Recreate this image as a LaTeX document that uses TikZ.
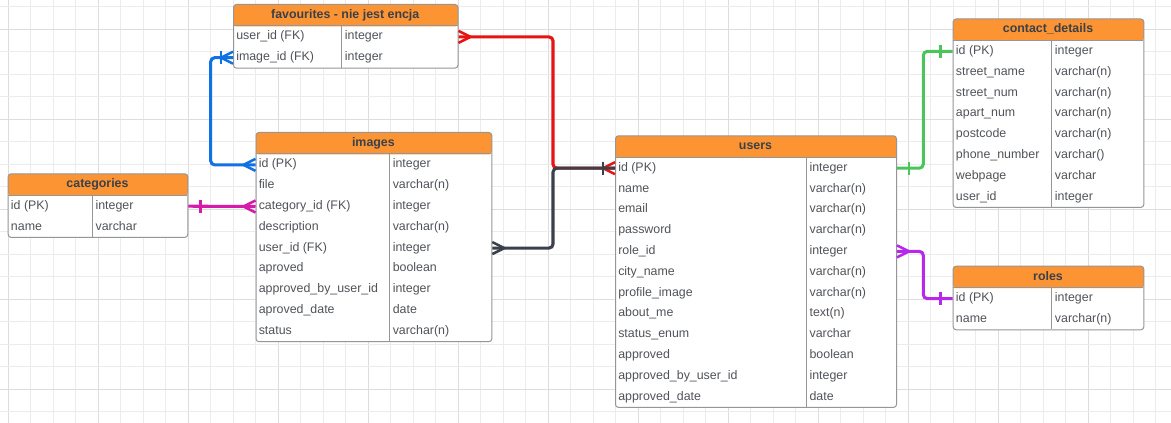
\documentclass[tikz,border=0pt]{standalone}
\usepackage{fontspec}
\setmainfont{Liberation Sans}
\definecolor{hdrcol}{RGB}{252,148,51}
\definecolor{bordercol}{RGB}{150,150,150}
\definecolor{hdrtxt}{RGB}{58,65,74}
\definecolor{celltxt}{RGB}{80,83,89}
\definecolor{gridminor}{RGB}{236,236,236}
\definecolor{gridmajor}{RGB}{221,221,221}
\definecolor{cred}{RGB}{232,19,19}
\definecolor{cblue}{RGB}{16,113,229}
\definecolor{cmag}{RGB}{214,26,170}
\definecolor{cdark}{RGB}{58,65,74}
\definecolor{cgreen}{RGB}{76,196,92}
\definecolor{cpurp}{RGB}{184,40,236}
\newcommand\erdtab[8]{%
  \pgfmathsetmacro\erdW{(#4-#2)*0.75}%
  \pgfmathsetmacro\erdH{(22+#6*20.8)*0.75}%
  \node[tabbox, minimum width=\erdW pt, minimum height=\erdH pt, anchor=north west] (#1) at (#2,#3) {};
  \draw[sepline] (#2,#3+22) -- (#4,#3+22);
  \draw[sepline] (#5,#3+22) -- (#5,#3+22+#6*20.8);
  \node[hdrtext] (#1-t) at ({(#2+#4)/2},#3+11.3) {#7};
  \foreach \erdA/\erdB [count=\erdI] in {#8} {
    \node[celltext] (#1-\erdI) at (#2+3,#3+22.5+\erdI*20.8-10.4) {\erdA};
    \node[celltext] (#1-\erdI-t) at (#5+3,#3+22.5+\erdI*20.8-10.4) {\erdB};
  }
}
\newcommand\crowfoot[3]{\draw[sym,#3] (#1) ++(#2*12,0) -- ++(-#2*12,-6) (#1) ++(#2*12,0) -- ++(-#2*12,6);}
\newcommand\onebar[3]{\draw[sym,#3] (#1) ++(#2*12,-6.5) -- ++(0,13);}
\begin{document}
\begin{tikzpicture}[x=0.75pt,y=-0.75pt,
  tabbox/.style={draw=bordercol, line width=0.75pt, fill=white, rounded corners=2.2pt, inner sep=0pt,
    path picture={\fill[hdrcol] (path picture bounding box.north west) rectangle ([yshift=-16.5pt]path picture bounding box.north east);}},
  sepline/.style={draw=bordercol, line width=0.75pt},
  hdrtext/.style={font=\fontsize{9.3}{11}\selectfont\bfseries, text=hdrtxt, inner sep=0pt, text height=6.8pt, text depth=2.2pt},
  celltext/.style={font=\fontsize{9.3}{11}\selectfont, text=celltxt, anchor=west, inner sep=0pt, text height=6.8pt, text depth=2.2pt},
  conn/.style={line width=2.3pt, rounded corners=3pt},
  sym/.style={line width=1.9pt},
  gmin/.style={draw=gridminor, line width=0.75pt},
  gmaj/.style={draw=gridmajor, line width=0.75pt}]
\useasboundingbox (0,0) rectangle (1171,423);
\fill[white] (0,0) rectangle (1171,423);
% grid
\foreach \k in {0,...,51} {
  \pgfmathtruncatemacro\km{mod(\k,4)}
  \ifnum\km=0 \draw[gmaj] (8.3+\k*22.5,0) -- (8.3+\k*22.5,423);
  \else \draw[gmin] (8.3+\k*22.5,0) -- (8.3+\k*22.5,423); \fi
}
\foreach \k in {0,...,18} {
  \pgfmathtruncatemacro\km{mod(\k,4)}
  \ifnum\km=1 \draw[gmaj] (0,6.7+\k*22.5) -- (1171,6.7+\k*22.5);
  \else \draw[gmin] (0,6.7+\k*22.5) -- (1171,6.7+\k*22.5); \fi
}
% tables
\erdtab{fav}{233}{4}{457.5}{341.7}{2}{favourites - nie jest encja}{user\_id (FK)/integer, image\_id (FK)/integer}
\erdtab{images}{255.5}{132}{491.3}{389.5}{9}{images}{id (PK)/integer, file/varchar(n), category\_id (FK)/integer, description/varchar(n), user\_id (FK)/integer, aproved/boolean, approved\_by\_user\_id/integer, aproved\_date/date, status/varchar(n)}
\erdtab{cat}{7.7}{173.3}{187.3}{92.3}{2}{categories}{id (PK)/integer, name/varchar}
\erdtab{users}{615}{135.3}{896}{806.3}{12}{users}{id (PK)/integer, name/varchar(n), email/varchar(n), password/varchar(n), role\_id/integer, city\_name/varchar(n), profile\_image/varchar(n), about\_me/text(n), status\_enum/varchar, approved/boolean, approved\_by\_user\_id/integer, approved\_date/date}
\erdtab{contact}{952.7}{18.5}{1143.3}{1051.7}{8}{contact\_details}{id (PK)/integer, street\_name/varchar(n), street\_num/varchar(n), apart\_num/varchar(n), postcode/varchar(n), phone\_number/varchar(), webpage/varchar, user\_id/integer}
\erdtab{roles}{952.7}{265.7}{1143.3}{1051.7}{2}{roles}{id (PK)/integer, name/varchar(n)}
% connector anchors
\coordinate (rA) at (fav.east |- fav-1);
\coordinate (rB) at (users.west |- users-1);
\coordinate (jx) at (553,0);
\coordinate (bA) at (fav.west |- fav-2);
\coordinate (bB) at (images.west |- images-1);
\coordinate (bx) at (210.7,0);
\coordinate (mA) at (cat.east |- cat-1);
\coordinate (mB) at (images.west |- images-3);
\coordinate (dA) at (images.east |- images-5);
\coordinate (gA) at (users.east |- users-1);
\coordinate (gB) at (contact.west |- contact-1);
\coordinate (gx) at (923.3,0);
\coordinate (pA) at (users.east |- users-5);
\coordinate (pB) at (roles.west |- roles-1);
% red
\draw[conn,cred] (rA) -- (jx |- rA) -- (jx |- rB) -- (rB);
\crowfoot{rA}{1}{cred}
\crowfoot{rB}{-1}{cred}
% dark
\draw[conn,cdark] (dA) -- (jx |- dA) -- (jx |- rB) -- (rB);
\crowfoot{dA}{1}{cdark}
\onebar{rB}{-1}{cdark}
% blue
\draw[conn,cblue] (bA) -- (bx |- bA) -- (bx |- bB) -- (bB);
\crowfoot{bA}{-1}{cblue}
\onebar{bA}{-1}{cblue}
\crowfoot{bB}{-1}{cblue}
% magenta
\draw[conn,cmag] (mA) -- (mB);
\onebar{mA}{1}{cmag}
\crowfoot{mB}{-1}{cmag}
% green
\draw[conn,cgreen] (gA) -- (gx |- gA) -- (gx |- gB) -- (gB);
\onebar{gA}{1}{cgreen}
\onebar{gB}{-1}{cgreen}
% purple
\draw[conn,cpurp] (pA) -- (gx |- pA) -- (gx |- pB) -- (pB);
\crowfoot{pA}{1}{cpurp}
\onebar{pB}{-1}{cpurp}
\end{tikzpicture}
\end{document}
